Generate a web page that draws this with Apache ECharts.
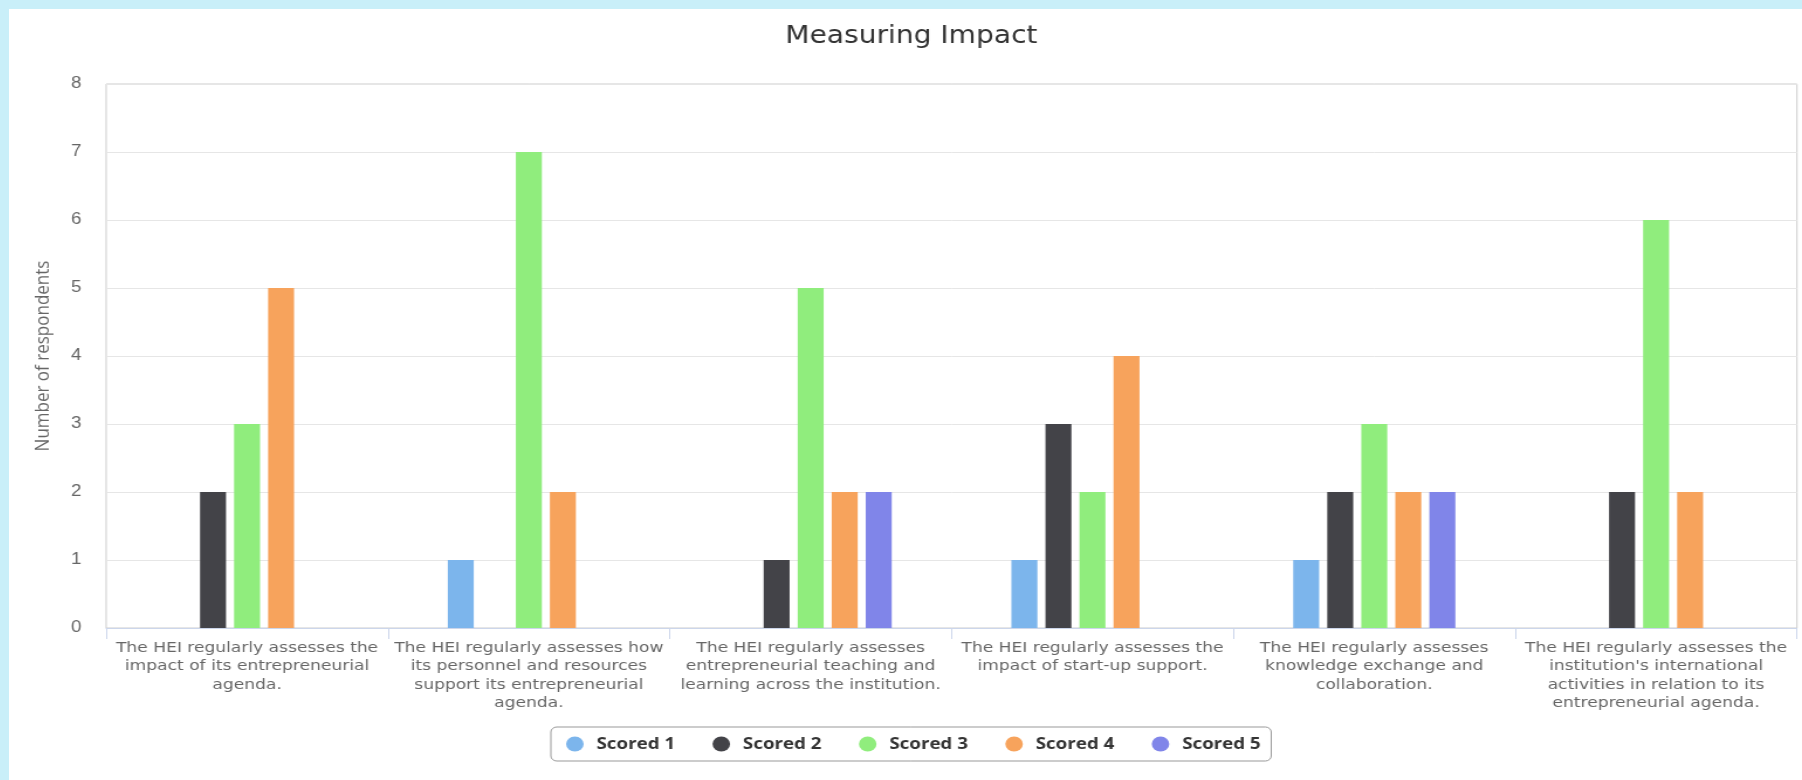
<!DOCTYPE html>
<html>
<head>
<meta charset="utf-8">
<script src="https://cdn.jsdelivr.net/npm/echarts@6/dist/echarts.min.js"></script>
<style>
html, body { margin:0; padding:0; background:#c9eff9; width:1802px; height:780px; overflow:hidden; }
#frame { position:absolute; left:9px; top:9px; width:1793px; height:771px; background:#ffffff; overflow:hidden; }
#chart { position:absolute; left:0; top:0; width:1532px; height:771px; transform-origin:0 0; transform:scaleX(1.17037); }
</style>
</head>
<body>
<div id="frame"><div id="chart"></div></div>
<script>
const categories = [
  "The HEI regularly assesses the\nimpact of its entrepreneurial\nagenda.",
  "The HEI regularly assesses how\nits personnel and resources\nsupport its entrepreneurial\nagenda.",
  "The HEI regularly assesses\nentrepreneurial teaching and\nlearning across the institution.",
  "The HEI regularly assesses the\nimpact of start-up support.",
  "The HEI regularly assesses\nknowledge exchange and\ncollaboration.",
  "The HEI regularly assesses the\ninstitution's international\nactivities in relation to its\nentrepreneurial agenda."
];
const seriesNames = ["Scored 1", "Scored 2", "Scored 3", "Scored 4", "Scored 5"];
const scored1 = [0, 1, 0, 1, 1, 0];
const scored2 = [2, 0, 1, 3, 2, 2];
const scored3 = [3, 7, 5, 2, 3, 6];
const scored4 = [5, 2, 2, 4, 2, 2];
const scored5 = [0, 0, 2, 0, 2, 0];
const yTicks = [0, 1, 2, 3, 4, 5, 6, 7, 8];

const colors = ["#7cb5ec", "#434348", "#90ed7d", "#f7a35c", "#8085e9"];
const allValues = [scored1, scored2, scored3, scored4, scored5];

const chart = echarts.init(document.getElementById('chart'), null, { renderer: 'canvas' });
chart.setOption({
  animation: false,
  color: colors,
  title: {
    text: 'Measuring Impact',
    left: 766, top: 11,
    textAlign: 'center',
    textStyle: { fontFamily: 'DejaVu Sans', fontSize: 24, fontWeight: 'normal', color: '#333333' }
  },
  grid: {
    left: 83, right: 4.3, top: 75, bottom: 152,
    show: true, borderColor: '#cccccc', borderWidth: 1, backgroundColor: 'transparent'
  },
  legend: {
    data: seriesNames,
    left: 463, top: 718,
    icon: 'circle',
    itemWidth: 15, itemHeight: 15,
    itemGap: 32,
    padding: [9, 9, 9, 13],
    borderColor: '#999999', borderWidth: 1, borderRadius: 5,
    textStyle: { fontFamily: 'Open Sans', fontSize: 16, fontWeight: 'bold', color: '#333333', padding: [0, 0, 0, 6] }
  },
  xAxis: {
    type: 'category',
    data: categories,
    axisLine: { lineStyle: { color: '#ccd6eb', width: 1 } },
    axisTick: { show: true, length: 11, lineStyle: { color: '#ccd6eb' } },
    axisLabel: {
      interval: 0, margin: 11,
      fontFamily: 'DejaVu Sans', fontSize: 14.6, lineHeight: 18.3, color: '#666666', align: 'center'
    },
    splitLine: { show: false }
  },
  yAxis: {
    type: 'value',
    min: yTicks[0], max: yTicks[yTicks.length - 1], interval: 1,
    name: 'Number of respondents',
    nameLocation: 'middle',
    nameGap: 45,
    nameTextStyle: { fontFamily: 'Open Sans', fontSize: 17, color: '#666666' },
    axisLine: { show: false },
    axisTick: { show: false },
    axisLabel: { margin: 21, fontFamily: 'Liberation Sans', fontSize: 16, color: '#666666' },
    splitLine: { lineStyle: { color: '#e6e6e6', width: 1 } }
  },
  series: seriesNames.map((n, i) => ({
    name: n,
    type: 'bar',
    data: allValues[i],
    barWidth: 22.2,
    barGap: '31%',
    itemStyle: { color: colors[i] }
  }))
});
</script>
</body>
</html>
